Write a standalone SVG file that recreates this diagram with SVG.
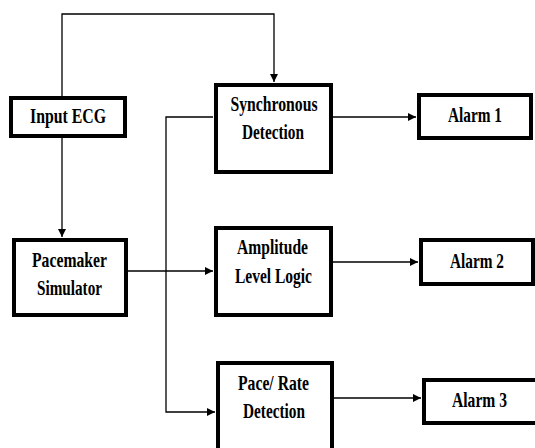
<svg xmlns="http://www.w3.org/2000/svg" width="535" height="448" viewBox="0 0 535 448">
<style>
.box{fill:#fff;stroke:#000;stroke-width:4}
.ln{fill:none;stroke:#000;stroke-width:1.3}
text{font-family:"Liberation Serif","Times New Roman",serif;font-weight:bold;font-size:21px;fill:#000;text-anchor:middle}
</style>
<defs>
<marker id="ar" viewBox="0 0 10 10" refX="10" refY="5" markerWidth="8" markerHeight="8" markerUnits="userSpaceOnUse" orient="auto">
<path d="M0,0 L10,5 L0,10 Z" fill="#000"/>
</marker>
</defs>
<rect width="535" height="448" fill="#fff"/>
<g id="connectors">
<path class="ln" d="M62,96 V14 H274 V82" marker-end="url(#ar)"/>
<path class="ln" d="M62,138 V237" marker-end="url(#ar)"/>
<path class="ln" d="M128,271 H213" marker-end="url(#ar)"/>
<path class="ln" d="M213,117 H166 V412 H215" marker-end="url(#ar)"/>
<path class="ln" d="M333,117 H416" marker-end="url(#ar)"/>
<path class="ln" d="M333,262 H418" marker-end="url(#ar)"/>
<path class="ln" d="M334,398 H421" marker-end="url(#ar)"/>
</g>
<g id="input-ecg">
<rect class="box" x="11" y="98" width="114" height="38"/>
<text x="68" y="123" textLength="76" lengthAdjust="spacingAndGlyphs">Input ECG</text>
</g>
<g id="pacemaker-simulator">
<rect class="box" x="14" y="240" width="112" height="75"/>
<text x="69.5" y="267" textLength="75" lengthAdjust="spacingAndGlyphs">Pacemaker</text>
<text x="69.5" y="295" textLength="65" lengthAdjust="spacingAndGlyphs">Simulator</text>
</g>
<g id="synchronous-detection">
<rect class="box" x="216" y="85" width="115" height="87"/>
<text x="274" y="111" textLength="87" lengthAdjust="spacingAndGlyphs">Synchronous</text>
<text x="273" y="139" textLength="62" lengthAdjust="spacingAndGlyphs">Detection</text>
</g>
<g id="amplitude-level-logic">
<rect class="box" x="216" y="228" width="115" height="87"/>
<text x="272.5" y="254" textLength="71" lengthAdjust="spacingAndGlyphs">Amplitude</text>
<text x="273.5" y="283" textLength="77" lengthAdjust="spacingAndGlyphs">Level Logic</text>
</g>
<g id="pace-rate-detection">
<rect class="box" x="218" y="363" width="114" height="95"/>
<text x="273.5" y="390" textLength="71" lengthAdjust="spacingAndGlyphs">Pace/ Rate</text>
<text x="274" y="418" textLength="62" lengthAdjust="spacingAndGlyphs">Detection</text>
</g>
<g id="alarm-1">
<rect class="box" x="419" y="95" width="112" height="43"/>
<text x="475" y="122" textLength="54" lengthAdjust="spacingAndGlyphs">Alarm 1</text>
</g>
<g id="alarm-2">
<rect class="box" x="421" y="240" width="112" height="44"/>
<text x="477" y="268" textLength="54" lengthAdjust="spacingAndGlyphs">Alarm 2</text>
</g>
<g id="alarm-3">
<rect class="box" x="424" y="380" width="116" height="43"/>
<text x="479.5" y="407" textLength="55" lengthAdjust="spacingAndGlyphs">Alarm 3</text>
</g>
</svg>
